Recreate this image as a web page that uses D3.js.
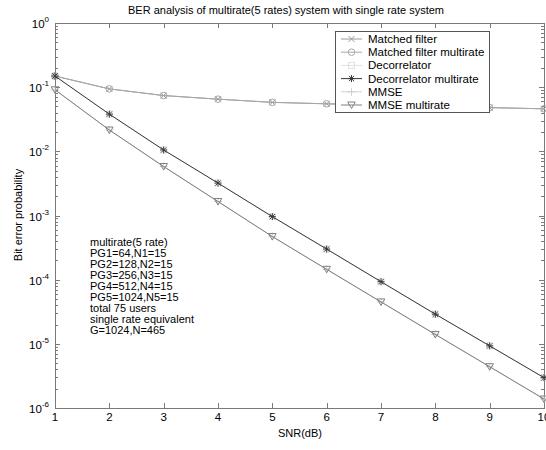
<!DOCTYPE html>
<html><head><meta charset="utf-8">
<script src="https://cdn.jsdelivr.net/npm/d3@7"></script>
<style>body{margin:0;background:#fff;} text{font-family:"Liberation Sans",Arial,sans-serif;}</style>
</head><body>
<svg id="c" width="546" height="450"></svg>
<script>
const snr = [1,2,3,4,5,6,7,8,9,10];
const matchedFilter          = [0.149,0.094,0.074,0.065,0.058,0.055,0.053,0.051,0.048,0.046];
const matchedFilterMultirate = [0.149,0.094,0.074,0.065,0.058,0.055,0.053,0.051,0.048,0.046];
const decorrelator           = [0.149,0.038,0.0105,0.0032,9.6e-4,3.0e-4,9.3e-5,2.9e-5,9.3e-6,2.97e-6];
const decorrelatorMultirate  = [0.149,0.038,0.0105,0.0032,9.6e-4,3.0e-4,9.3e-5,2.9e-5,9.3e-6,2.97e-6];
const mmse                   = [0.091,0.0215,0.0058,0.00165,4.7e-4,1.45e-4,4.5e-5,1.4e-5,4.4e-6,1.38e-6];
const mmseMultirate          = [0.091,0.0215,0.0058,0.00165,4.7e-4,1.45e-4,4.5e-5,1.4e-5,4.4e-6,1.38e-6];
const seriesNames = ["Matched filter","Matched filter multirate","Decorrelator","Decorrelator multirate","MMSE","MMSE multirate"];
const xTicks = [1,2,3,4,5,6,7,8,9,10];
const yExps = [0,-1,-2,-3,-4,-5,-6];
const annotation = ["multirate(5 rate)","PG1=64,N1=15","PG2=128,N2=15","PG3=256,N3=15","PG4=512,N4=15","PG5=1024,N5=15","total 75 users","single rate equivalent","G=1024,N=465"];

const series = [
 {name:seriesNames[0], v:matchedFilter, color:"#9a9a9a", marker:"x"},
 {name:seriesNames[1], v:matchedFilterMultirate, color:"#a8a8a8", marker:"o"},
 {name:seriesNames[2], v:decorrelator, color:"#e0e0e0", marker:"s"},
 {name:seriesNames[3], v:decorrelatorMultirate, color:"#383838", marker:"*"},
 {name:seriesNames[4], v:mmse, color:"#d0d0d0", marker:"+"},
 {name:seriesNames[5], v:mmseMultirate, color:"#808080", marker:"v"}
];

const L=55,R=544,T=23,B=408;
const svg=d3.select("#c");
const x=d3.scaleLinear().domain([1,10]).range([L,R]);
const y=d3.scaleLog().domain([1e-6,1]).range([B,T]);
const axisCol="#7a7a7a";

svg.append("rect").attr("x",L+0.5).attr("y",T+0.5).attr("width",R-L).attr("height",B-T)
  .attr("fill","none").attr("stroke",axisCol).attr("stroke-width",1);

const g=svg.append("g");
xTicks.forEach(t=>{
  const px=Math.round(x(t))+0.5;
  g.append("line").attr("x1",px).attr("x2",px).attr("y1",B).attr("y2",B-5).attr("stroke",axisCol);
  g.append("line").attr("x1",px).attr("x2",px).attr("y1",T).attr("y2",T+5).attr("stroke",axisCol);
  g.append("text").attr("x",x(t)).attr("y",421).attr("text-anchor","middle").attr("font-size",11.5).text(t);
});
yExps.forEach(e=>{
  const py=Math.round(y(Math.pow(10,e)))+0.5;
  g.append("line").attr("x1",L).attr("x2",L+5).attr("y1",py).attr("y2",py).attr("stroke",axisCol);
  g.append("line").attr("x1",R).attr("x2",R-5).attr("y1",py).attr("y2",py).attr("stroke",axisCol);
  const tx=g.append("text").attr("x",49).attr("y",py+4).attr("text-anchor","end").attr("font-size",11.5);
  tx.append("tspan").text("10");
  tx.append("tspan").attr("font-size",8).attr("dy",-6).text(e);
  if(e>-6){
    for(let m=2;m<=9;m++){
      const my=Math.round(y(m*Math.pow(10,e-1)))+0.5;
      g.append("line").attr("x1",L).attr("x2",L+3).attr("y1",my).attr("y2",my).attr("stroke",axisCol);
      g.append("line").attr("x1",R).attr("x2",R-3).attr("y1",my).attr("y2",my).attr("stroke",axisCol);
    }
  }
});

function marker(sel,type,cx,cy,color){
  const s=3;
  if(type==="o") sel.append("circle").attr("cx",cx).attr("cy",cy).attr("r",3.3).attr("fill","none").attr("stroke",color);
  else if(type==="x") sel.append("path").attr("d",`M${cx-s},${cy-s}L${cx+s},${cy+s}M${cx-s},${cy+s}L${cx+s},${cy-s}`).attr("stroke",color);
  else if(type==="s") sel.append("rect").attr("x",cx-3).attr("y",cy-3).attr("width",6).attr("height",6).attr("fill","none").attr("stroke",color);
  else if(type==="+") sel.append("path").attr("d",`M${cx-4},${cy}L${cx+4},${cy}M${cx},${cy-4}L${cx},${cy+4}`).attr("stroke",color);
  else if(type==="*") sel.append("path").attr("d",`M${cx-3.5},${cy}L${cx+3.5},${cy}M${cx},${cy-3.5}L${cx},${cy+3.5}M${cx-2.6},${cy-2.6}L${cx+2.6},${cy+2.6}M${cx-2.6},${cy+2.6}L${cx+2.6},${cy-2.6}`).attr("stroke",color);
  else if(type==="v") sel.append("path").attr("d",`M${cx-3.8},${cy-3}L${cx+3.8},${cy-3}L${cx},${cy+3.5}Z`).attr("fill","none").attr("stroke",color);
}

const plot=svg.append("g");
const line=d3.line().x((d,i)=>x(snr[i])).y(d=>y(d));
[2,4,0,1,5,3].forEach(k=>{
  const s=series[k];
  plot.append("path").attr("d",line(s.v)).attr("fill","none").attr("stroke",s.color).attr("stroke-width",1);
  s.v.forEach((v,i)=>marker(plot,s.marker,x(snr[i]),y(v),s.color));
});

const lg=svg.append("g");
lg.append("rect").attr("x",335.5).attr("y",31.5).attr("width",154).attr("height",81).attr("fill","#fff").attr("stroke","#555");
series.forEach((s,i)=>{
  const ly=39+i*13.2;
  lg.append("line").attr("x1",341).attr("x2",362).attr("y1",ly).attr("y2",ly).attr("stroke",s.color);
  marker(lg,s.marker,351.5,ly,s.color);
  lg.append("text").attr("x",368).attr("y",ly+4).attr("font-size",11.5).text(s.name);
});

annotation.forEach((t,i)=>{
  svg.append("text").attr("x",90).attr("y",246+i*11).attr("font-size",11).text(t);
});

svg.append("text").attr("x",286).attr("y",14).attr("text-anchor","middle").attr("font-size",11).text("BER analysis of multirate(5 rates) system with single rate system");
svg.append("text").attr("x",300).attr("y",437).attr("text-anchor","middle").attr("font-size",11).text("SNR(dB)");
svg.append("text").attr("transform","translate(22,215) rotate(-90)").attr("text-anchor","middle").attr("font-size",11).text("Bit error probability");
</script>
</body></html>
